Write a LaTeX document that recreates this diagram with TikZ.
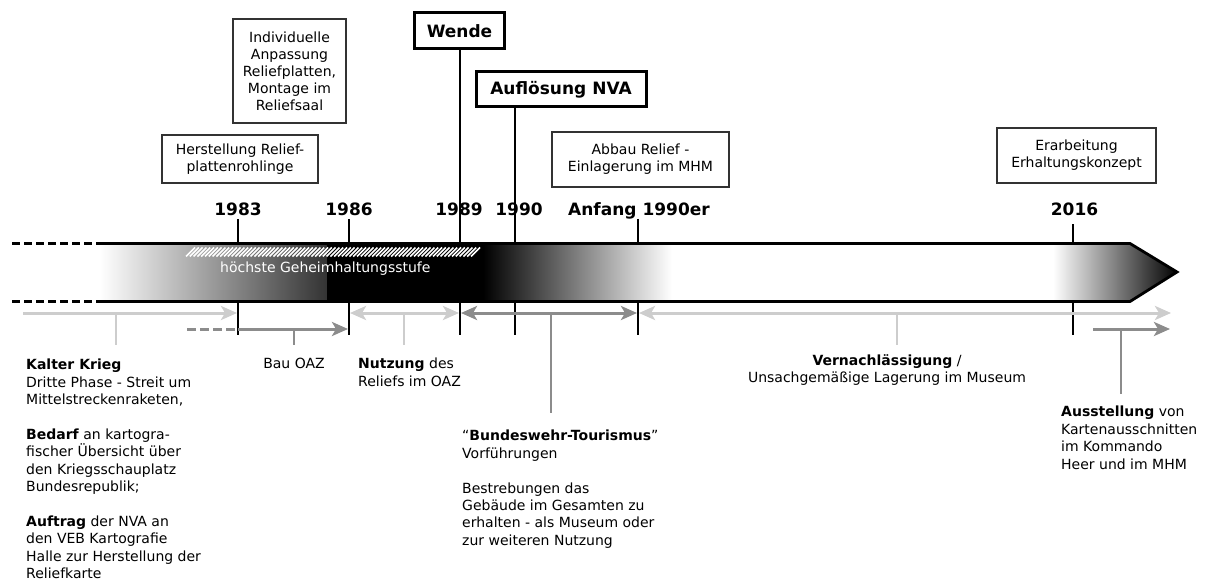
\documentclass[tikz,border=0pt]{standalone}
\usepackage{fontspec}
\setmainfont{DejaVu Sans}
\usetikzlibrary{arrows.meta}
\definecolor{lightg}{RGB}{205,205,205}
\definecolor{darkg}{RGB}{140,140,140}
\definecolor{boxc}{RGB}{50,50,50}
\begin{document}
\begin{tikzpicture}[x=1pt,y=-1pt,
  txt/.style={inner sep=0pt, font=\fontsize{14}{17.4}\selectfont, align=left},
  ctxt/.style={inner sep=0pt, font=\fontsize{14}{17.4}\selectfont, align=center},
  yearlbl/.style={inner sep=0pt, font=\fontsize{17}{20}\selectfont\bfseries, anchor=base},
  thinbox/.style={draw=boxc, line width=1.4pt, inner sep=0pt, align=center, font=\fontsize{14}{17}\selectfont},
  boldbox/.style={draw=black, line width=3pt, inner sep=0pt, align=center, font=\fontsize{17}{20}\selectfont\bfseries},
  tickline/.style={line width=2.6pt, draw=black},
  barline/.style={line width=2.8pt, draw=black},
  bardash/.style={line width=2.8pt, draw=black, dash pattern=on 8pt off 4pt},
  tipA/.tip={Stealth[length=16pt,width=14pt,inset=4pt]},
  lightarrow/.style={line width=3pt, draw=lightg},
  darkarrow/.style={line width=3pt, draw=darkg},
  lightbranch/.style={line width=2.6pt, draw=lightg},
  darkbranch/.style={line width=2.6pt, draw=darkg}
]
\useasboundingbox (0,0) rectangle (1207,580);

% ---------- boxes ----------
\node[thinbox, minimum width=113pt, minimum height=104pt] (indiv) at (289.5,71) {Individuelle\\Anpassung\\Reliefplatten,\\Montage im\\Reliefsaal};
\node[thinbox, minimum width=156pt, minimum height=48pt] (herst) at (240,159) {Herstellung Relief-\\plattenrohlinge};
\node[thinbox, minimum width=177pt, minimum height=55pt] (abbau) at (640.5,159.5) {Abbau Relief -\\Einlagerung im MHM};
\node[thinbox, minimum width=159pt, minimum height=55pt] (erarb) at (1076.5,155.5) {Erarbeitung\\Erhaltungskonzept};
\node[boldbox, minimum width=90pt, minimum height=36pt] (wende) at (459.5,31) {Wende};
\node[boldbox, minimum width=170pt, minimum height=35pt] (aufl) at (561,89.5) {Auflösung NVA};

% ---------- ticks (behind the bar) ----------
\coordinate (t83a) at (238,219);  \coordinate (t83b) at (238,335);
\coordinate (t86a) at (349,219);  \coordinate (t86b) at (349,335);
\coordinate (t89b) at (460,335);
\coordinate (t90b) at (515,335);
\coordinate (t9xa) at (638,219);  \coordinate (t9xb) at (638,335);
\coordinate (t16a) at (1073,224); \coordinate (t16b) at (1073,335);

\draw[tickline] (t83a) -- (t83b);
\draw[tickline] (t86a) -- (t86b);
\draw[tickline] (wende.south -| t89b) -- (t89b);
\draw[tickline] (aufl.south -| t90b) -- (t90b);
\draw[tickline] (t9xa) -- (t9xb);
\draw[tickline] (t16a) -- (t16b);

\node[yearlbl] (y83) at (238,215.5) {1983};
\node[yearlbl] (y86) at (349,215.5) {1986};
\node[yearlbl] (y89) at (459,215.5) {1989};
\node[yearlbl] (y90) at (519,215.5) {1990};
\node[yearlbl] (y9x) at (639,215.5) {Anfang 1990er};
\node[yearlbl] (y16) at (1074.5,215.5) {2016};

% ---------- bar fill ----------
\fill[white] (100,243.5) -- (1130,243.5) -- (1177,272) -- (1130,301.5) -- (100,301.5) -- cycle;
\shade[left color=white, right color=black!80] (100,243.5) rectangle (327,301.5);
\fill[black] (326.5,243.5) rectangle (484,301.5);
\shade[left color=black, right color=white] (483,243.5) rectangle (672,301.5);
\begin{scope}
  \clip (1053,243.5) -- (1130,243.5) -- (1177,272) -- (1130,301.5) -- (1053,301.5) -- cycle;
  \shade[left color=white, right color=black] (1053,243) rectangle (1178,302);
\end{scope}

% hatch stripe
\foreach \i in {0,...,75} {
  \draw[white, line width=1.6pt] ({186+\i*3.8},256.5) -- ({186+\i*3.8+9},247.5);
}
\node[inner sep=0pt, anchor=base west, text=white, font=\fontsize{14}{17}\selectfont] (geheim) at (220,272) {höchste Geheimhaltungsstufe};

% bar outline
\draw[barline, line join=miter] (100,243.5) -- (1130,243.5) -- (1177,272) -- (1130,301.5) -- (100,301.5);
\draw[bardash] (12,243.5) -- (100,243.5);
\draw[bardash] (12,301.5) -- (100,301.5);

% ---------- arrows row 1 ----------
\coordinate (a1s) at (23,313);   \coordinate (a1e) at (237,313);
\coordinate (a2s) at (350,313);  \coordinate (a2e) at (459,313);
\coordinate (a3s) at (461,313);  \coordinate (a3e) at (637,313);
\coordinate (a4s) at (639,313);  \coordinate (a4e) at (1171,313);
\draw[lightarrow, -tipA] (a1s) -- (a1e);
\draw[lightarrow, tipA-tipA] (a2s) -- (a2e);
\draw[darkarrow, tipA-tipA] (a3s) -- (a3e);
\draw[lightarrow, tipA-tipA] (a4s) -- (a4e);

% ---------- arrows row 2 ----------
\coordinate (a5s) at (187,329);  \coordinate (a5m) at (238,329);  \coordinate (a5e) at (348,329);
\coordinate (a6s) at (1093,329); \coordinate (a6e) at (1170,329);
\draw[darkarrow, dash pattern=on 9pt off 4pt] (a5s) -- (a5m);
\draw[darkarrow, -tipA] (a5m) -- (a5e);
\draw[darkarrow, -tipA] (a6s) -- (a6e);

% ---------- labels ----------
\node[txt, anchor=north west] (kalter) at (26,359) {\textbf{Kalter Krieg}\\Dritte Phase - Streit um\\Mittelstreckenraketen,\\[17.4pt]\textbf{Bedarf} an kartogra-\\fischer Übersicht über\\den Kriegsschauplatz\\Bundesrepublik;\\[17.4pt]\textbf{Auftrag} der NVA an\\den VEB Kartografie\\Halle zur Herstellung der\\Reliefkarte};
\node[txt, anchor=north] (bau) at (294,358) {Bau OAZ};
\node[txt, anchor=north west] (nutz) at (358,358) {\textbf{Nutzung} des\\Reliefs im OAZ};
\node[txt, anchor=north west] (bwt) at (462,430) {“\textbf{Bundeswehr-Tourismus}”\\Vorführungen\\[17.4pt]Bestrebungen das\\Gebäude im Gesamten zu\\erhalten - als Museum oder\\zur weiteren Nutzung};
\node[ctxt, anchor=north] (vern) at (887,354) {\textbf{Vernachlässigung} /\\Unsachgemäßige Lagerung im Museum};
\node[txt, anchor=north west] (ausst) at (1061,406) {\textbf{Ausstellung} von\\Kartenausschnitten\\im Kommando\\Heer und im MHM};

% ---------- branches ----------
\coordinate (b1) at (116,313);
\coordinate (b2) at (294,329);
\coordinate (b3) at (404,313);
\coordinate (b4) at (551,313);
\coordinate (b5) at (897,313);
\coordinate (b6) at (1121,329);
\draw[lightbranch] (b1) -- (b1 |- 0,345);
\draw[darkbranch] (b2) -- (b2 |- 0,345);
\draw[lightbranch] (b3) -- (b3 |- 0,345);
\draw[darkbranch] (b4) -- (b4 |- 0,413);
\draw[lightbranch] (b5) -- (b5 |- 0,345);
\draw[darkbranch] (b6) -- (b6 |- 0,394);
\end{tikzpicture}
\end{document}
